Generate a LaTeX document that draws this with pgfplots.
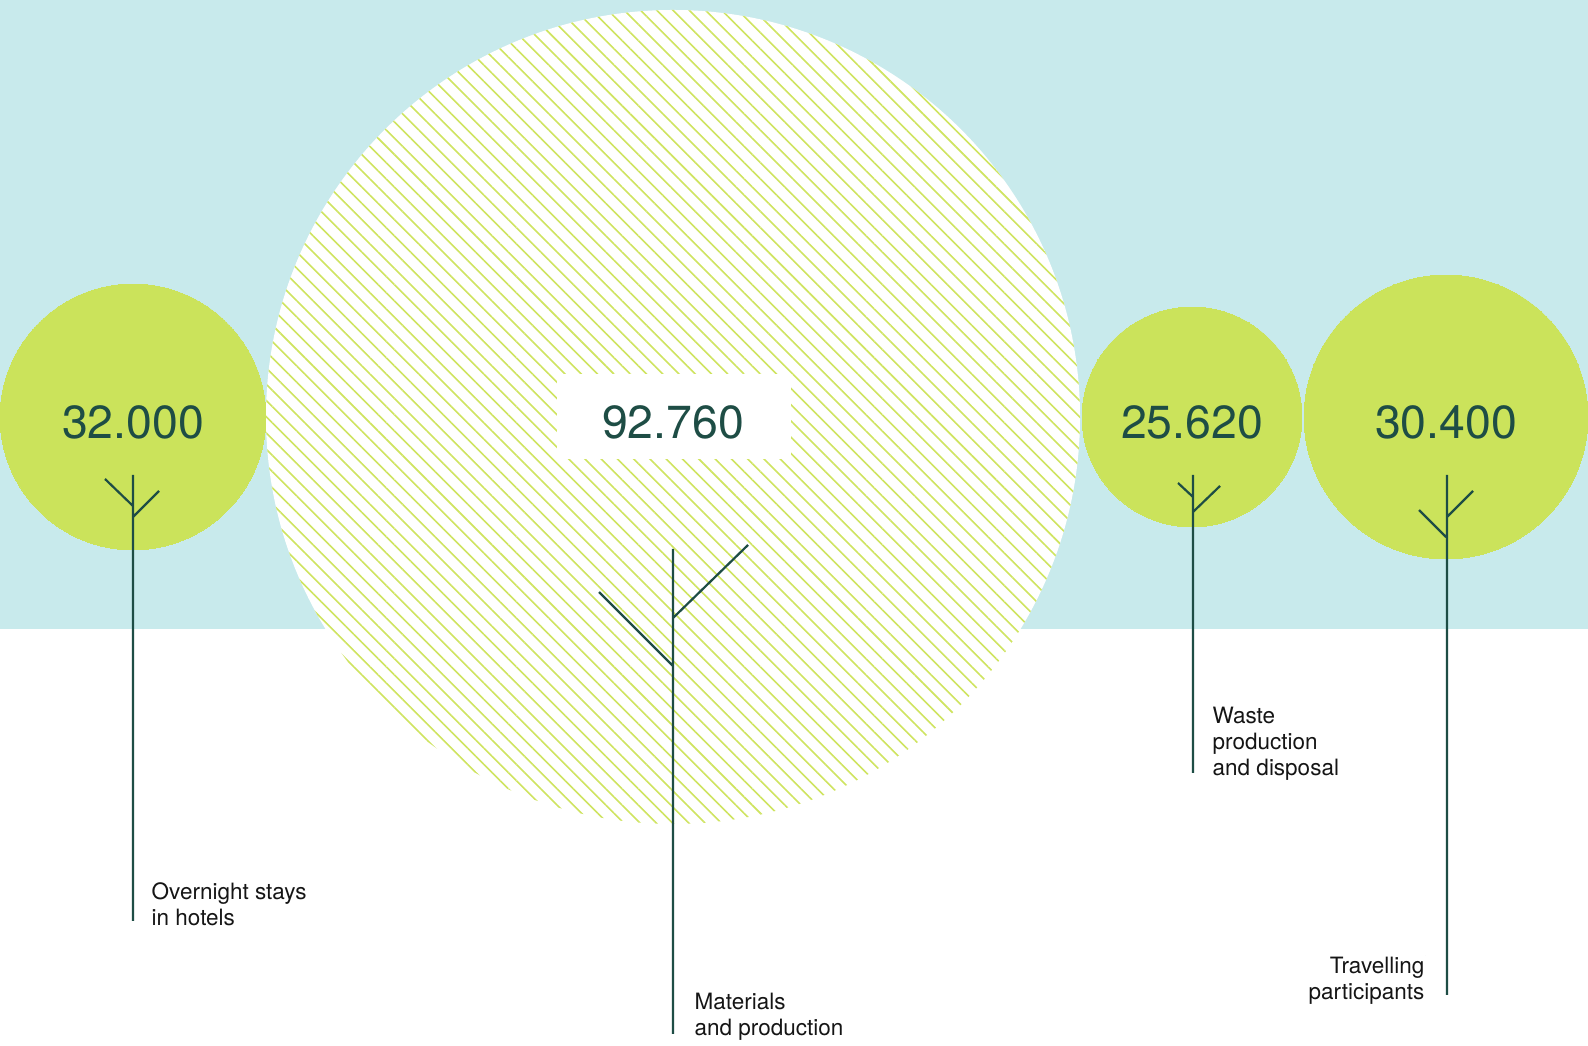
\documentclass[border=0pt]{standalone}
\usepackage{pgfplots}
\pgfplotsset{compat=1.18}
\usepackage{fontspec}
\setmainfont{TeX Gyre Heros}
\usetikzlibrary{patterns.meta}

\definecolor{band}{HTML}{C8EAEC}
\definecolor{leaf}{HTML}{CBE35B}
\definecolor{hatch}{HTML}{CFE460}
\definecolor{ink}{HTML}{1E4D45}
\definecolor{labtext}{HTML}{151515}

\pgfplotsset{
  nomark/.style={draw=none, only marks, mark=*, mark size=0pt, mark options={draw=none, fill=none}},
  lab/.style={nomark, nodes near coords={#1},
    every node near coord/.append style={draw=none, inner sep=0pt, align=left, text=labtext,
      font=\fontsize{6.4}{7.45}\selectfont, anchor=north west}},
}

\begin{document}
\begin{tikzpicture}
\begin{axis}[
  width=15.88cm, height=10.45cm, scale only axis,
  xmin=0, xmax=1588, ymin=0, ymax=1045, y dir=reverse,
  hide axis, clip=false, set layers=standard,
]
% page and sky band
\addplot[fill=white, draw=none] coordinates {(0,0) (1588,0) (1588,1045) (0,1045)} -- cycle;
\addplot[fill=band, draw=none] coordinates {(0,0) (1588,0) (1588,629) (0,629)} -- cycle;

% the big hatched bubble
\addplot[nomark, nodes near coords={},
  every node near coord/.append style={circle, draw=none, inner sep=0pt, anchor=center,
    minimum size=8.14cm, fill=white,
    postaction={draw=none, pattern color=hatch, pattern={Lines[angle=-45, distance=0.115cm, line width=0.016cm]}}}]
  coordinates {(673,417)};

% the green bubbles, radius in px
\addplot[scatter, only marks, mark=*, point meta=explicit,
  scatter/use mapped color={draw=leaf, fill=leaf, line width=0pt},
  visualization depends on={\thisrow{r} \as \rad},
  scatter/@pre marker code/.append style={/tikz/mark size=\rad*0.01cm}]
  table[x=x, y=y, meta=r] {
x     y    r
133   417  133
1192  417  110
1446  417  142
};

% white box behind the big value
\addplot[nomark, nodes near coords={},
  every node near coord/.append style={rectangle, draw=none, inner sep=0pt, anchor=center,
    minimum width=2.34cm, minimum height=0.85cm, fill=white}]
  coordinates {(674,417)};

% values
\addplot[nomark, point meta=explicit symbolic, nodes near coords,
  every node near coord/.append style={draw=none, anchor=center, inner sep=0pt, text=ink,
    font=\fontsize{13.2}{15}\selectfont}]
  coordinates {(133,422)[32.000] (673,422)[92.760] (1192,422)[25.620] (1446,422)[30.400]};

% trunks and branches, above the bubbles
\addplot[ink, line width=0.022cm, mark=none, unbounded coords=jump, on layer=axis foreground] coordinates {
(133,475) (133,921) (nan,nan)
(105,479) (133,506) (nan,nan)
(133,517) (159,491) (nan,nan)
(673,549) (673,1034) (nan,nan)
(599,592) (673,666) (nan,nan)
(673,618) (748,545) (nan,nan)
(1193,475) (1193,773) (nan,nan)
(1178,483) (1193,497) (nan,nan)
(1193,512) (1220,486) (nan,nan)
(1447,475) (1447,995) (nan,nan)
(1419,510) (1446,537) (nan,nan)
(1447,517) (1473,491)
};

% category labels
\addplot[lab={Overnight stays\\in hotels}] coordinates {(151,882)};
\addplot[lab={Materials\\and production}] coordinates {(694,992)};
\addplot[lab={Waste\\production\\and disposal}] coordinates {(1212,706)};
\addplot[lab={Travelling\\participants},
  every node near coord/.append style={align=right, anchor=north east}]
  coordinates {(1425,956)};
\end{axis}
\end{tikzpicture}
\end{document}
